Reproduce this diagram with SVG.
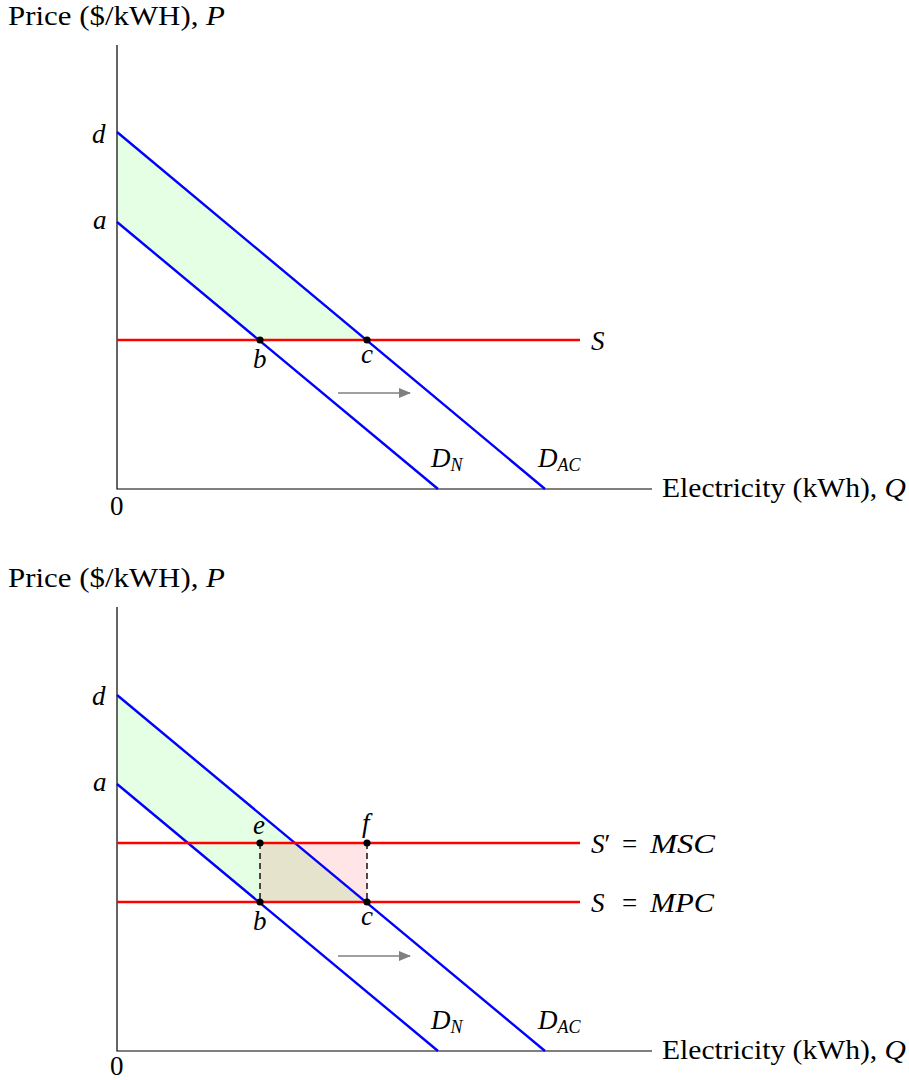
<svg xmlns="http://www.w3.org/2000/svg" width="909" height="1080" viewBox="0 0 909 1080">
<defs>
<marker id="ah" markerWidth="12" markerHeight="10" refX="11" refY="5" orient="auto" markerUnits="userSpaceOnUse">
<path d="M0,0 L12,5 L0,10 Z" fill="#808080"/>
</marker>
</defs>
<style>
text{font-family:"Liberation Serif","DejaVu Serif",serif;font-size:27px;fill:#000}
.lab{font-size:27px}
.m{font-style:italic}
.sub{font-size:18px;font-style:italic}
.ax{stroke:#000;stroke-width:1.2;fill:none}
.dem{stroke:#0000ff;stroke-width:2.4;fill:none}
.sup{stroke:#ff0000;stroke-width:2.4;fill:none}
.dash{stroke:#000;stroke-width:1.4;stroke-dasharray:6,4;fill:none}
.pt{fill:#000}
.arr{stroke:#808080;stroke-width:1.3;fill:none}
</style>
<g id="top">
<g id="top-areas">
<polygon points="117,132 367,340 260,340 117,222" fill="#e5ffe5"/>
</g>
<g id="top-axes">
<polyline class="ax" points="117,45 117,489 652,489"/>
<text class="lab" x="8" y="25" textLength="217" lengthAdjust="spacingAndGlyphs">Price ($/kWH), <tspan class="m">P</tspan></text>
<text class="lab" x="662" y="497" textLength="244" lengthAdjust="spacingAndGlyphs">Electricity (kWh), <tspan class="m">Q</tspan></text>
<text x="110" y="515" font-size="25">0</text>
</g>
<g id="top-connectors">
<line class="dem" x1="117" y1="132" x2="545" y2="489"/>
<line class="dem" x1="117" y1="222" x2="438" y2="489"/>
<line class="sup" x1="117" y1="340" x2="580" y2="340"/>
<line class="arr" x1="338" y1="393" x2="410" y2="393" marker-end="url(#ah)"/>
</g>
<g id="top-labels">
<text class="m" x="92" y="143">d</text>
<text class="m" x="93" y="229">a</text>
<text class="m" x="253" y="368">b</text>
<text class="m" x="361" y="363">c</text>
<text class="m" x="591" y="350">S</text>
<text class="m" x="431" y="467">D<tspan class="sub" dy="4">N</tspan></text>
<text class="m" x="538" y="467">D<tspan class="sub" dy="4">AC</tspan></text>
</g>
<g id="top-points">
<circle class="pt" cx="260" cy="340" r="3.6"/>
<circle class="pt" cx="367" cy="340" r="3.6"/>
</g>
</g>
<g id="bottom">
<g id="bottom-areas">
<polygon points="117,695 367,902 260,902 117,784" fill="#e5ffe5"/>
<polygon points="294,843 367,843 367,902" fill="#ffe5e5"/>
<polygon points="260,843 294,843 367,902 260,902" fill="#e6e3cc"/>
</g>
<g id="bottom-axes">
<polyline class="ax" points="117,607 117,1051 652,1051"/>
<text class="lab" x="8" y="587" textLength="217" lengthAdjust="spacingAndGlyphs">Price ($/kWH), <tspan class="m">P</tspan></text>
<text class="lab" x="662" y="1059" textLength="244" lengthAdjust="spacingAndGlyphs">Electricity (kWh), <tspan class="m">Q</tspan></text>
<text x="110" y="1075" font-size="25">0</text>
</g>
<g id="bottom-connectors">
<line class="dem" x1="117" y1="695" x2="545" y2="1051"/>
<line class="dem" x1="117" y1="784" x2="438" y2="1051"/>
<line class="sup" x1="117" y1="843" x2="580" y2="843"/>
<line class="sup" x1="117" y1="902" x2="580" y2="902"/>
<line class="dash" x1="260" y1="843" x2="260" y2="902"/>
<line class="dash" x1="367" y1="843" x2="367" y2="902"/>
<line class="arr" x1="338" y1="956" x2="410" y2="956" marker-end="url(#ah)"/>
</g>
<g id="bottom-labels">
<text class="m" x="92" y="705">d</text>
<text class="m" x="93" y="791">a</text>
<text class="m" x="253" y="930">b</text>
<text class="m" x="361" y="925">c</text>
<text class="m" x="253" y="834">e</text>
<text class="m" x="362" y="832">f</text>
<text x="591" y="853"><tspan class="m">S</tspan>′<tspan x="622">=</tspan><tspan class="m" x="650" textLength="65" lengthAdjust="spacingAndGlyphs">MSC</tspan></text>
<text x="591" y="912"><tspan class="m">S</tspan><tspan x="622">=</tspan><tspan class="m" x="650" textLength="64" lengthAdjust="spacingAndGlyphs">MPC</tspan></text>
<text class="m" x="431" y="1029">D<tspan class="sub" dy="4">N</tspan></text>
<text class="m" x="538" y="1029">D<tspan class="sub" dy="4">AC</tspan></text>
</g>
<g id="bottom-points">
<circle class="pt" cx="260" cy="843" r="3.6"/>
<circle class="pt" cx="367" cy="843" r="3.6"/>
<circle class="pt" cx="260" cy="902" r="3.6"/>
<circle class="pt" cx="367" cy="902" r="3.6"/>
</g>
</g>
</svg>
